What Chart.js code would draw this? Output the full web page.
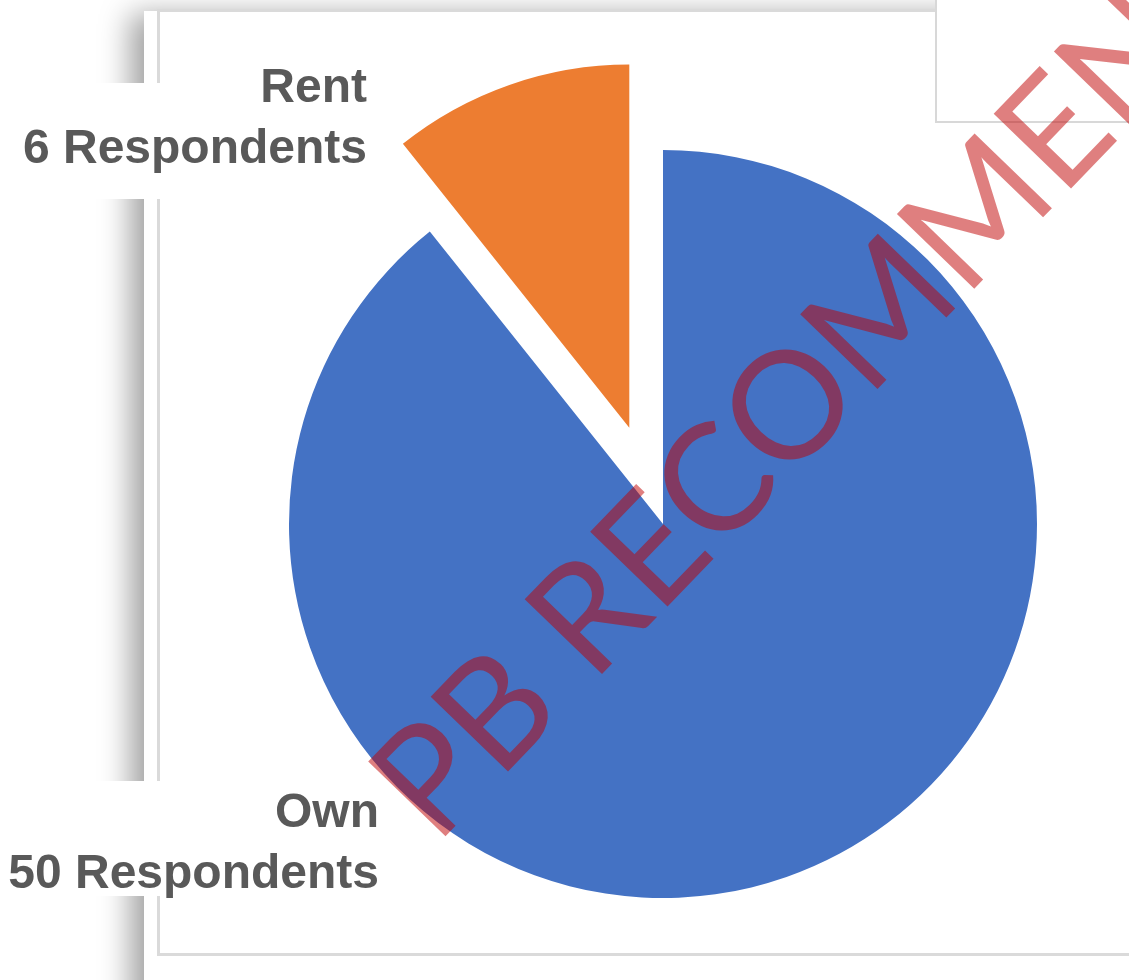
<!DOCTYPE html>
<html>
<head>
<meta charset="utf-8">
<title>Own vs Rent</title>
<script src="https://cdn.jsdelivr.net/npm/chart.js@4/dist/chart.umd.min.js"></script>
<style>
    html, body { margin: 0; padding: 0; background: #fff; overflow: hidden; }
    #panel {
        position: absolute; left: 144px; top: 11px; width: 1100px; height: 1100px;
        background: #fff; box-shadow: -14px 3px 28px rgba(0, 0, 0, 0.36);
    }
    #frame {
        position: absolute; left: 157px; top: 9px; width: 1100px; height: 941px;
        border: 3px solid #dadada;
    }
    #legendBox {
        position: absolute; left: 935px; top: -4px; width: 220px; height: 123px;
        border: 2px solid #d8d8d8; background: #fff;
    }
    #ownRentChart { position: absolute; left: 0; top: 0; }
</style>
</head>
<body>
<div id="panel"></div>
<div id="frame"></div>
<div id="legendBox"></div>
<canvas id="ownRentChart" width="1129" height="980"></canvas>
<script>
// Housing status of survey respondents
const categories = ['Own', 'Rent'];
const respondents = [50, 6];
const sliceColors = ['#4472C4', '#ED7D31'];
const unitLabel = 'Respondents';

// Label placement (right edge, first baseline) and the white box behind each label
const labelAnchors = [
    { x: 379, y: 827, box: [0, 781, 385, 115] },
    { x: 367, y: 102, box: [0, 83, 375, 116] }
];

const labelPlugin = {
    id: 'sliceLabels',
    beforeDraw(chart) {
        const ctx = chart.ctx;
        ctx.save();
        ctx.fillStyle = '#fff';
        labelAnchors.forEach(a => ctx.fillRect(...a.box));
        ctx.restore();
    },
    afterDatasetsUpdate(chart, args, opts) {
        // pull exploded slices straight out along their bisector
        // (arc `offset` narrows the wedge, so move the element instead)
        const meta = chart.getDatasetMeta(0);
        meta.data.forEach((arc, i) => {
            const dist = opts.explode[i] || 0;
            if (!dist) return;
            const mid = (arc.startAngle + arc.endAngle) / 2;
            arc.x += Math.cos(mid) * dist;
            arc.y += Math.sin(mid) * dist;
            arc.outerRadius = arc.outerRadius * opts.explodedScale;
        });
    },
    afterDraw(chart) {
        const ctx = chart.ctx;
        const values = chart.data.datasets[0].data;
        ctx.save();
        ctx.font = 'bold 48px "Liberation Sans", Arial, sans-serif';
        ctx.fillStyle = '#595959';
        ctx.textAlign = 'right';
        ctx.textBaseline = 'alphabetic';
        chart.data.labels.forEach((name, i) => {
            const a = labelAnchors[i];
            ctx.fillText(name, a.x, a.y);
            ctx.fillText(values[i] + ' ' + unitLabel, a.x, a.y + 61);
        });
        ctx.restore();

        // diagonal watermark
        ctx.save();
        ctx.translate(436, 846);
        ctx.rotate(-46 * Math.PI / 180);
        ctx.font = '150px Lato, "Open Sans", sans-serif';
        ctx.fillStyle = 'rgba(192, 0, 0, 0.5)';
        ctx.textBaseline = 'alphabetic';
        ctx.fillText('PB RECOMMENDED', 0, 0);
        ctx.restore();
    }
};

const canvas = document.getElementById('ownRentChart');
const ctx = canvas.getContext('2d');
window.ownRentChart = new Chart(ctx, {
    type: 'pie',
    data: {
        labels: categories,
        datasets: [{
            data: respondents,
            backgroundColor: sliceColors,
            borderWidth: 0
        }]
    },
    options: {
        responsive: false,
        animation: false,
        radius: 374,
        layout: { padding: { left: 200, right: 3, top: 80, bottom: 12 } },
        plugins: {
            legend: { display: false },
            tooltip: { enabled: false },
            sliceLabels: { explode: [0, 102], explodedScale: 0.971 }
        }
    },
    plugins: [labelPlugin]
});
</script>
</body>
</html>
